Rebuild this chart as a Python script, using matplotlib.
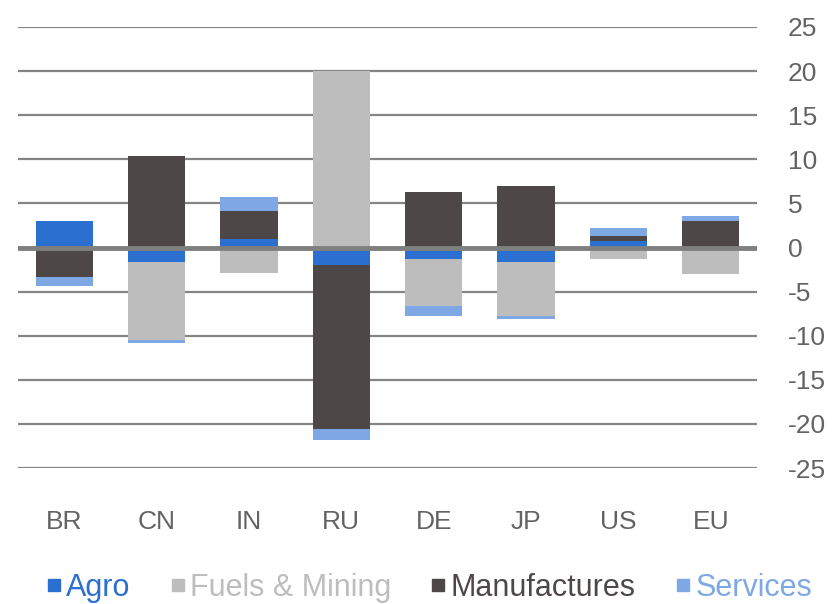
import matplotlib

matplotlib.use("Agg")
import matplotlib.pyplot as plt
from matplotlib.lines import Line2D
import numpy as np

plt.rcParams["font.family"] = ["Liberation Sans", "DejaVu Sans"]

countries = ["BR", "CN", "IN", "RU", "DE", "JP", "US", "EU"]
series_names = ["Agro", "Fuels & Mining", "Manufactures", "Services"]
agro = [3.0, -1.7, 1.0, -2.0, -1.3, -1.7, 0.7, 0.0]
fuels = [0.0, -8.8, -2.9, 20.0, -5.3, -6.1, -1.3, -3.0]
manufactures = [-3.4, 10.4, 3.1, -18.6, 6.3, 7.0, 0.6, 3.0]
services = [-1.0, -0.3, 1.6, -1.2, -1.2, -0.3, 0.9, 0.6]
colors = ["#2b6fd0", "#bdbdbd", "#4d4747", "#7ea8e4"]
yticks = [-25, -20, -15, -10, -5, 0, 5, 10, 15, 20, 25]

fig = plt.figure(figsize=(8.35, 6.04), dpi=100)
ax = fig.add_axes([18 / 835, 1 - 468 / 604, (757 - 18) / 835, 441 / 604])

x = np.arange(len(countries))
pos_base = np.zeros(len(countries))
neg_base = np.zeros(len(countries))
for vals, col in zip([agro, fuels, manufactures, services], colors):
    vals = np.array(vals)
    bottoms = np.where(vals >= 0, pos_base, neg_base)
    ax.bar(x, vals, width=0.62, bottom=bottoms, color=col, zorder=3, linewidth=0)
    pos_base += np.where(vals > 0, vals, 0)
    neg_base += np.where(vals < 0, vals, 0)

for t in yticks:
    if t == 0:
        ax.axhline(0, color="#7f7f7f", linewidth=3.5, zorder=4)
    else:
        ax.axhline(t, color="#858585", linewidth=1.6, zorder=1)

ax.set_xlim(-0.5, len(countries) - 0.5)
ax.set_ylim(-25, 25)
ax.set_yticks(yticks)
ax.set_yticklabels([str(t) for t in yticks])
ax.yaxis.tick_right()
ax.tick_params(axis="y", length=0, pad=22, labelsize=19, labelcolor="#636363")
ax.set_xticks(x)
ax.set_xticklabels(countries)
ax.tick_params(axis="x", length=0, pad=30, labelsize=19, labelcolor="#636363")
for s in ax.spines.values():
    s.set_visible(False)

handles = [
    Line2D([], [], marker="s", linestyle="none", markersize=8, color=c)
    for c in colors
]
fig.legend(
    handles,
    series_names,
    loc="center",
    bbox_to_anchor=(429 / 835, 1 - 588 / 604),
    ncol=4,
    frameon=False,
    fontsize=22,
    labelcolor=colors,
    handlelength=0.5,
    handletextpad=0.15,
    columnspacing=1.3,
)

fig.savefig("out.png", dpi=100)
